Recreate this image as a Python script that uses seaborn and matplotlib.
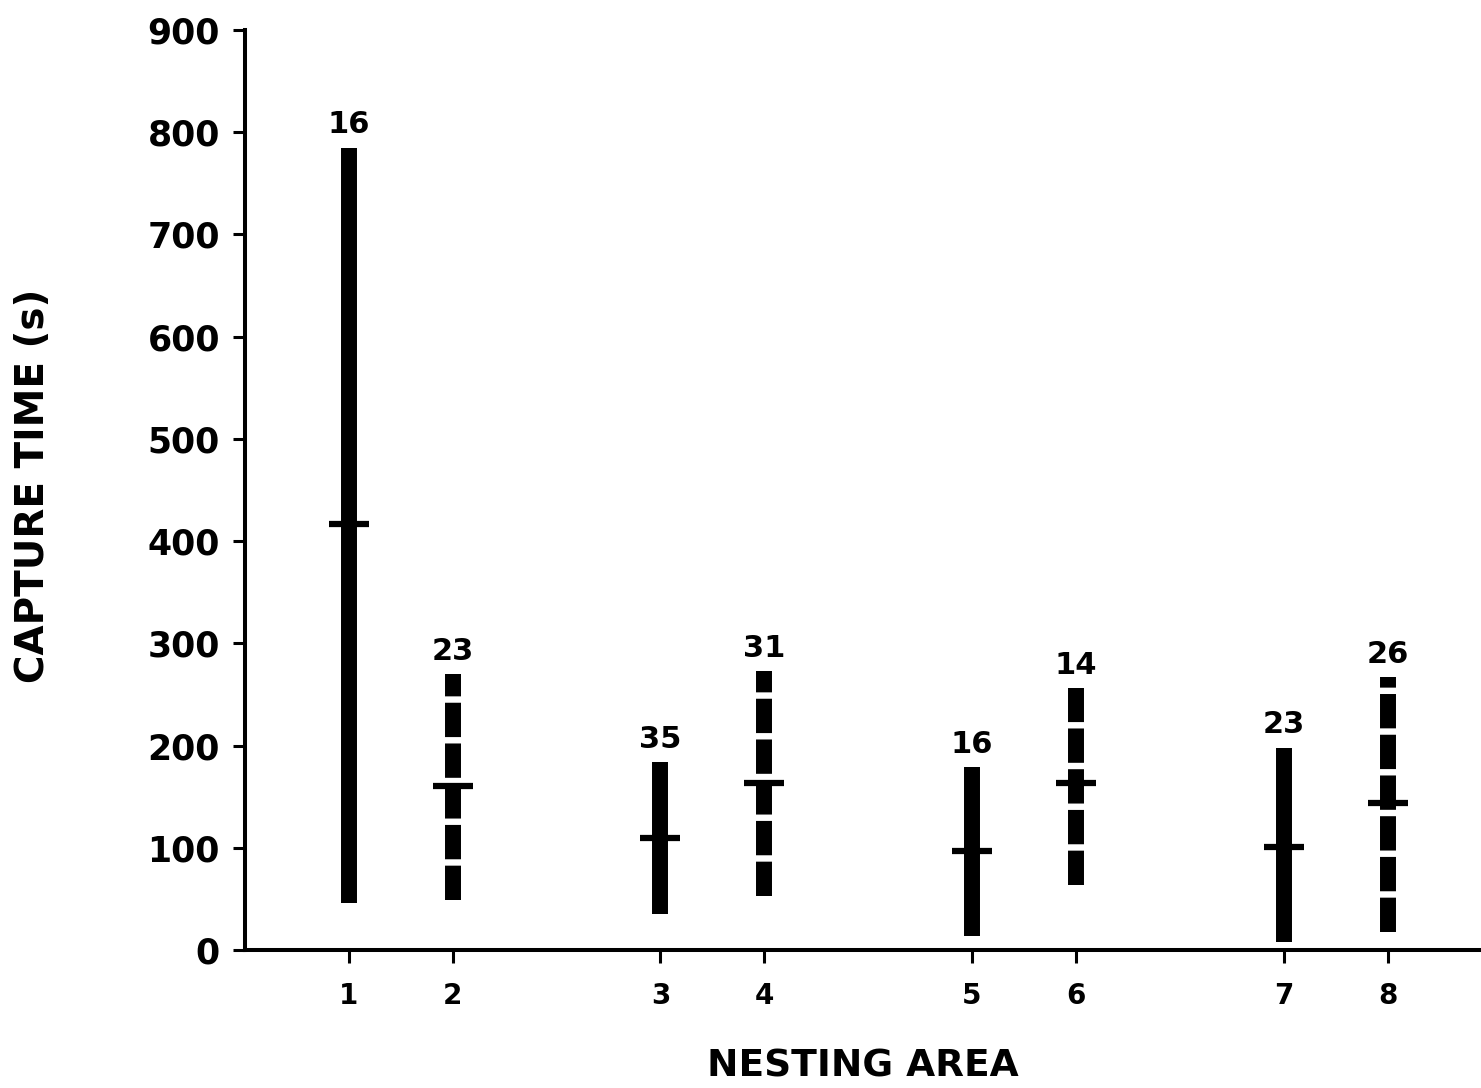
import numpy as np
import pandas as pd
import seaborn as sns
import matplotlib.pyplot as plt

# capture time ranges per nesting area
areas = ["1", "2", "3", "4", "5", "6", "7", "8"]
low = [46, 49, 35, 53, 14, 64, 8, 18]
high = [785, 270, 184, 273, 179, 256, 198, 267]
mean = [417, 160, 110, 163, 97, 163, 101, 144]
n_obs = [16, 23, 35, 31, 16, 14, 23, 26]
dashed = [False, True, False, True, False, True, False, True]

sns.set_theme(style="ticks")
plt.rcParams['font.family'] = ['DejaVu Sans']
plt.rcParams['font.weight'] = 'bold'
plt.rcParams['text.color'] = 'black'
plt.rcParams['axes.labelcolor'] = 'black'
plt.rcParams['xtick.color'] = 'black'
plt.rcParams['ytick.color'] = 'black'

# areas are drawn in pairs with a gap between pairs
pos = [i + i // 2 + 1 for i in range(len(areas))]
df = pd.DataFrame({"area": areas, "pos": pos, "low": low, "high": high,
                   "mean": mean, "n": n_obs, "dashed": dashed})

fig = plt.figure(figsize=(14.81, 10.88), dpi=100)
ax = fig.add_axes([0.1654, 0.1268, 0.8346, 0.8456])

for _, r in df.iterrows():
    ls = (0, (2.15, 0.4)) if r["dashed"] else "-"
    ax.vlines(r["pos"], r["low"], r["high"], colors="black", linewidth=11.5,
              linestyles=ls)
    ax.annotate(str(r["n"]), (r["pos"], r["high"]), xytext=(0, 6),
                textcoords="offset points", ha="center", va="bottom",
                fontsize=22, fontweight="bold", color="black")

sns.scatterplot(data=df, x="pos", y="mean", marker="_", s=850, linewidth=4.5,
                color="black", ax=ax, legend=False, zorder=3)

ax.set_xlim(0, 11.9)
ax.set_ylim(0, 900)
ax.set_xticks(pos)
ax.set_xticklabels(areas)
ax.set_yticks(range(0, 901, 100))
ax.tick_params(axis="y", length=9, width=2.2, pad=9, labelsize=25, color="black")
ax.tick_params(axis="x", length=9, width=2.2, pad=14, labelsize=20, color="black")
for lab in ax.get_xticklabels() + ax.get_yticklabels():
    lab.set_fontweight("bold")

sns.despine(ax=ax)
for sp in ["left", "bottom"]:
    ax.spines[sp].set_linewidth(2.9)
    ax.spines[sp].set_color("black")

ax.set_xlabel("NESTING AREA", fontsize=27, fontweight="bold", labelpad=28)
ax.set_ylabel("CAPTURE TIME (s)", fontsize=28, fontweight="bold")
ax.yaxis.set_label_coords(-0.156, 0.505)

fig.savefig("out.png", dpi=100, facecolor="white")
